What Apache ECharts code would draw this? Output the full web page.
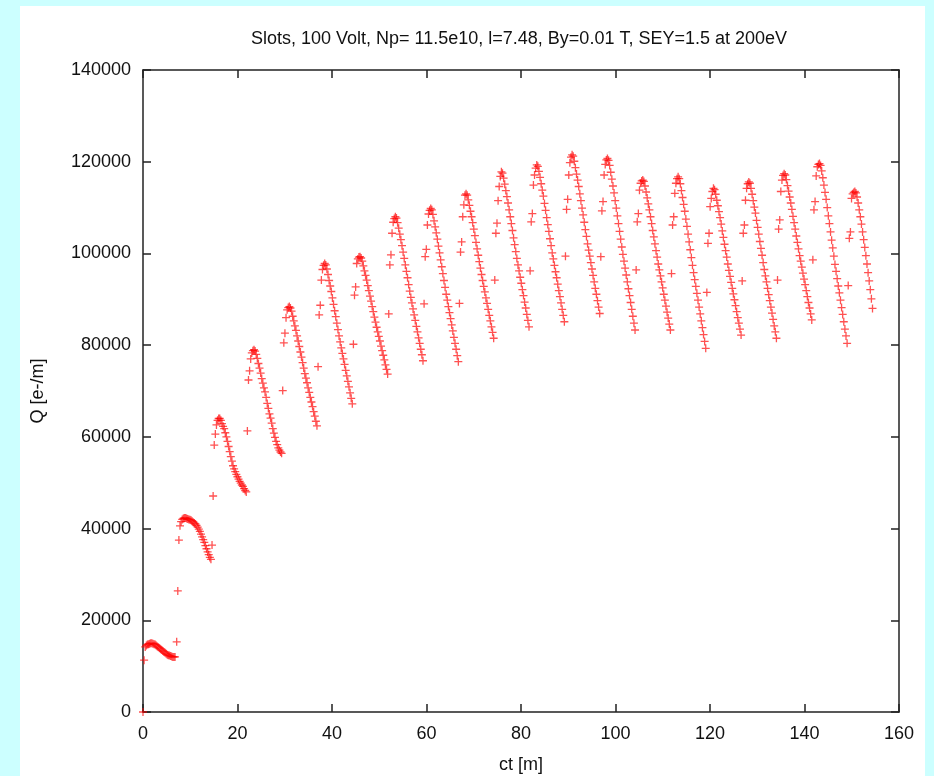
<!DOCTYPE html>
<html><head><meta charset="utf-8">
<script src="https://cdn.jsdelivr.net/npm/echarts@6/dist/echarts.min.js"></script>
<style>
html,body{margin:0;padding:0;background:#ccffff;width:934px;height:776px;overflow:hidden;}
#chart{position:absolute;left:20px;top:6px;width:905px;height:770px;background:#ffffff;}
</style></head><body><div id="chart"></div>
<script>
const titleText = "Slots, 100 Volt, Np= 11.5e10, l=7.48, By=0.01 T, SEY=1.5 at 200eV";
const xAxisName = "ct [m]";
const yAxisName = "Q [e-/m]";
const xTicks = [0, 20, 40, 60, 80, 100, 120, 140, 160];
const yTicks = [0, 20000, 40000, 60000, 80000, 100000, 120000, 140000];

// sampling interval of the output (ct, m) and ct of first sample of each bunch cycle
const ctStep = 0.23375;
const cycleStart = [0, 7.13, 14.61, 22.09, 29.57, 37.05, 44.53, 52.01, 59.49, 66.97, 74.45,
  81.93, 89.41, 96.89, 104.37, 111.85, 119.33, 126.81, 134.29, 141.77, 149.25];

// Q [e-/m] values read per bunch cycle
const c00 = [0, 11300, 14200, 14500, 14700, 14800, 14900, 15000, 15000, 14900, 14800, 14700, 14500, 14300, 14100, 13900, 13700, 13500, 13300, 13100, 12900, 12700, 12500, 12400, 12300, 12200, 12100, 12000, 12000, 12000];
const c01 = [15300, 26400, 37500, 40600, 41500, 42000, 42200, 42300, 42300, 42200, 42100, 42000, 41900, 41800, 41600, 41400, 41200, 41000, 40700, 40300, 39900, 39400, 38800, 38200, 37600, 37000, 36300, 35600, 34900, 34300, 33700, 33300];
const c02 = [36400, 47100, 58200, 60600, 62600, 63600, 64000, 64000, 63600, 62900, 62300, 61800, 60900, 60000, 59000, 57900, 56800, 55700, 54700, 53700, 53000, 52400, 51800, 51300, 50800, 50300, 49900, 49500, 49200, 48700, 48300, 48000];
const c03 = [61300, 72400, 74400, 77000, 78300, 78800, 79000, 78700, 78000, 77100, 76000, 75000, 73900, 72700, 71700, 70700, 69800, 68600, 67300, 66200, 65000, 64100, 63000, 61800, 60800, 59900, 59000, 58300, 57600, 57100, 56700, 56400];
const c04 = [70100, 80500, 82600, 86000, 87700, 88200, 88400, 88100, 87400, 86300, 85300, 84200, 83200, 82000, 80900, 79700, 78500, 77400, 76200, 75000, 73800, 72800, 71800, 70700, 69700, 68600, 67600, 66600, 65500, 64500, 63400, 62400];
const c05 = [75300, 86600, 88700, 94200, 96500, 97400, 97800, 97500, 96600, 95400, 94100, 92900, 91700, 90300, 88900, 87500, 86200, 84800, 83400, 82000, 80700, 79400, 78200, 77000, 75800, 74500, 73300, 72100, 70900, 69600, 68400, 67200];
const c06 = [80200, 90900, 92700, 97800, 98800, 99200, 99300, 99000, 98300, 97300, 96200, 95200, 94200, 93000, 91900, 90700, 89600, 88400, 87300, 86100, 85000, 83900, 82900, 81900, 80900, 79800, 78800, 77800, 76800, 75700, 74700, 73700];
const c07 = [86800, 97500, 99700, 104400, 106800, 107600, 108000, 107700, 106700, 105500, 104200, 103000, 101700, 100300, 98900, 97500, 96100, 94700, 93200, 91800, 90400, 89200, 87900, 86600, 85400, 84100, 82900, 81600, 80400, 79100, 77900, 76600];
const c08 = [89000, 99300, 100900, 106200, 108600, 109400, 109800, 109500, 108500, 107100, 105800, 104500, 103100, 101600, 100100, 98600, 97100, 95600, 94100, 92600, 91100, 89800, 88400, 87100, 85800, 84400, 83100, 81700, 80400, 79100, 77700, 76400];
const c09 = [89100, 100300, 102500, 108000, 110600, 112700, 113000, 112700, 111700, 110500, 109200, 108000, 106700, 105300, 103900, 102400, 101000, 99600, 98200, 96800, 95400, 94100, 92800, 91600, 90300, 89100, 87800, 86500, 85300, 84000, 82800, 81500];
const c10 = [94200, 104400, 106600, 111500, 114600, 116800, 117800, 117500, 116400, 115100, 113700, 112400, 111000, 109500, 108000, 106500, 105000, 103400, 101900, 100400, 98900, 97500, 96200, 94800, 93500, 92100, 90800, 89400, 88100, 86700, 85400, 84000];
const c11 = [96200, 106900, 108700, 114900, 117100, 118600, 119300, 119000, 117900, 116600, 115200, 113800, 112500, 110900, 109400, 107800, 106300, 104800, 103200, 101700, 100100, 98800, 97400, 96000, 94700, 93300, 91900, 90600, 89200, 87800, 86500, 85100];
const c12 = [99400, 109600, 111800, 117100, 119800, 121000, 121500, 121200, 120100, 118700, 117300, 116000, 114600, 113000, 111500, 109900, 108400, 106800, 105200, 103700, 102100, 100700, 99400, 98000, 96600, 95200, 93800, 92400, 91100, 89700, 88300, 86900];
const c13 = [99300, 109300, 111300, 117100, 119400, 120400, 120700, 120300, 119200, 117700, 116200, 114700, 113200, 111500, 109900, 108200, 106500, 104800, 103100, 101400, 99800, 98300, 96800, 95300, 93800, 92300, 90800, 89300, 87800, 86300, 84800, 83300];
const c14 = [96400, 106900, 108700, 113800, 115300, 115800, 116000, 115700, 114700, 113400, 112100, 110800, 109500, 108000, 106500, 105000, 103600, 102100, 100600, 99200, 97700, 96400, 95100, 93800, 92500, 91100, 89800, 88500, 87200, 85900, 84600, 83300];
const c15 = [95600, 106200, 108000, 113100, 115300, 116300, 116700, 116300, 115200, 113700, 112200, 110700, 109200, 107500, 105900, 104200, 102500, 100800, 99100, 97400, 95800, 94300, 92800, 91300, 89800, 88300, 86800, 85300, 83800, 82300, 80800, 79300];
const c16 = [91500, 102200, 104400, 110200, 112000, 113500, 114200, 113900, 112900, 111600, 110400, 109100, 107800, 106400, 104900, 103500, 102000, 100600, 99200, 97700, 96300, 95000, 93700, 92400, 91200, 89900, 88600, 87300, 86000, 84800, 83500, 82200];
const c17 = [94000, 104400, 106200, 111600, 114200, 115200, 115600, 115300, 114200, 112900, 111500, 110100, 108800, 107200, 105700, 104200, 102600, 101100, 99600, 98000, 96500, 95100, 93800, 92400, 91000, 89700, 88300, 87000, 85600, 84200, 82900, 81500];
const c18 = [94200, 105300, 107300, 113500, 116000, 117000, 117400, 117100, 116100, 114800, 113600, 112300, 111000, 109600, 108100, 106700, 105300, 103800, 102400, 101000, 99500, 98300, 97000, 95700, 94400, 93200, 91900, 90600, 89300, 88100, 86800, 85500];
const c19 = [98600, 109500, 111300, 116900, 118900, 119400, 119600, 119200, 118000, 116500, 114900, 113300, 111800, 110000, 108200, 106500, 104700, 102900, 101200, 99400, 97600, 96100, 94500, 92900, 91400, 89800, 88200, 86700, 85100, 83500, 82000, 80400];
const c20 = [93000, 103300, 104700, 112000, 113000, 113300, 113500, 113200, 112300, 111000, 109500, 108000, 106400, 104700, 103000, 101300, 99500, 97700, 95800, 94000, 92100, 90100, 88000];

const cycles = [c00, c01, c02, c03, c04, c05, c06, c07, c08, c09, c10, c11, c12, c13, c14, c15, c16, c17, c18, c19, c20];
const points = [];
cycles.forEach((ys, k) => ys.forEach((y, j) => {
  points.push([Math.round((cycleStart[k] + j * ctStep) * 1000) / 1000, y]);
}));

const FONT = "'Liberation Sans', Arial, sans-serif";
const FS = 18;
const axisCol = '#222222';
const chart = echarts.init(document.getElementById('chart'), null, {renderer: 'canvas'});
const baseX = {
  type: 'value', min: xTicks[0], max: xTicks[xTicks.length - 1], interval: xTicks[1] - xTicks[0],
  axisLine: {show: true, onZero: false, lineStyle: {color: axisCol, width: 1.5}},
  axisTick: {show: true, inside: true, length: 8, lineStyle: {color: axisCol, width: 1.5}},
  splitLine: {show: false}
};
const baseY = {
  type: 'value', min: yTicks[0], max: yTicks[yTicks.length - 1], interval: yTicks[1] - yTicks[0],
  axisLine: {show: true, onZero: false, lineStyle: {color: axisCol, width: 1.5}},
  axisTick: {show: true, inside: true, length: 8, lineStyle: {color: axisCol, width: 1.5}},
  splitLine: {show: false}
};
chart.setOption({
  animation: false,
  backgroundColor: '#ffffff',
  grid: {left: 123, right: 26, top: 64, bottom: 64, containLabel: false, outerBoundsMode: 'none'},
  graphic: [{
    type: 'text', x: 499, y: 33,
    style: {text: titleText, textAlign: 'center', textVerticalAlign: 'middle', fill: '#111', font: FS + "px " + FONT}
  }],
  xAxis: [
    Object.assign({}, baseX, {
      position: 'bottom',
      name: xAxisName, nameLocation: 'middle', nameGap: 44,
      nameTextStyle: {color: '#111', fontSize: FS, fontFamily: FONT},
      axisLabel: {show: true, margin: 13, color: '#111', fontSize: FS, fontFamily: FONT,
        formatter: v => String(v)}
    }),
    Object.assign({}, baseX, {position: 'top', axisLabel: {show: false}})
  ],
  yAxis: [
    Object.assign({}, baseY, {
      position: 'left',
      name: yAxisName, nameLocation: 'middle', nameGap: 96, nameRotate: 90,
      nameTextStyle: {color: '#111', fontSize: FS, fontFamily: FONT},
      axisLabel: {show: true, margin: 12, color: '#111', fontSize: FS, fontFamily: FONT,
        formatter: v => String(v)}
    }),
    Object.assign({}, baseY, {position: 'right', axisLabel: {show: false}})
  ],
  series: [{
    type: 'scatter',
    xAxisIndex: 0, yAxisIndex: 0,
    data: points,
    symbol: 'path://M0,4H8M4,0V8',
    symbolSize: 8,
    itemStyle: {color: 'rgba(255,0,0,0)', borderColor: 'rgba(255,0,0,0.85)', borderWidth: 1.3},
    silent: true
  }]
});
</script></body></html>
